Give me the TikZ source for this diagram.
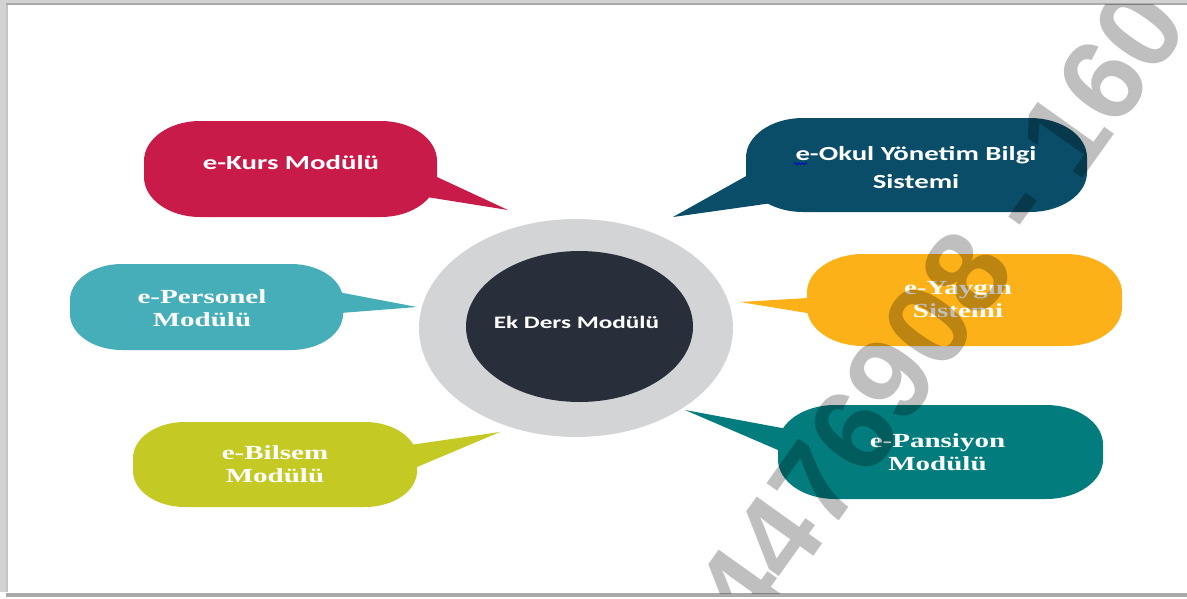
\documentclass[tikz,border=0pt]{standalone}
\usepackage{fontspec}
\usetikzlibrary{decorations.pathmorphing}
\newfontfamily\calb[FakeStretch=1.44]{Carlito}
\newfontfamily\timb[FakeStretch=1.45]{Liberation Serif}
\newfontfamily\wmfont{Liberation Sans}
\definecolor{ckurs}{HTML}{C91B4A}
\definecolor{cokul}{HTML}{0A4D68}
\definecolor{cpers}{HTML}{45AEB8}
\definecolor{cyayg}{HTML}{FBB117}
\definecolor{cbils}{HTML}{C4C923}
\definecolor{cpans}{HTML}{027C7D}
\definecolor{cring}{HTML}{D3D4D6}
\definecolor{ccore}{HTML}{282F3A}
\definecolor{frameA}{HTML}{D2D2D2}
\definecolor{frameB}{HTML}{AAAAAA}
% x1 y1 x2 y2 rx ry colour
\newcommand\bubblebody[7]{%
  \pgfmathsetmacro\xa{#1}\pgfmathsetmacro\ya{#2}%
  \pgfmathsetmacro\xb{#3}\pgfmathsetmacro\yb{#4}%
  \pgfmathsetmacro\rx{#5}\pgfmathsetmacro\ry{#6}%
  \pgfmathsetmacro\kx{0.4477*\rx}\pgfmathsetmacro\ky{0.4477*\ry}%
  \fill[#7] (\xa+\rx,\ya) -- (\xb-\rx,\ya)
     .. controls (\xb-\kx,\ya) and (\xb,\ya+\ky) .. (\xb,\ya+\ry)
     -- (\xb,\yb-\ry)
     .. controls (\xb,\yb-\ky) and (\xb-\kx,\yb) .. (\xb-\rx,\yb)
     -- (\xa+\rx,\yb)
     .. controls (\xa+\kx,\yb) and (\xa,\yb-\ky) .. (\xa,\yb-\ry)
     -- (\xa,\ya+\ry)
     .. controls (\xa,\ya+\ky) and (\xa+\kx,\ya) .. (\xa+\rx,\ya) -- cycle;}
\tikzset{
  sanslabel/.style={text=white, inner sep=0pt, align=center,
    font=\calb\bfseries\fontsize{20}{28}\selectfont},
  seriflabel/.style={text=white, inner sep=0pt, align=center,
    font=\timb\bfseries\fontsize{20}{23}\selectfont},
  corelabel/.style={text=white, inner sep=0pt,
    font=\calb\bfseries\fontsize{17.5}{20}\selectfont},
  watermark/.style={text=black, text opacity=0.25, inner sep=0pt,
    font=\wmfont\bfseries\fontsize{117}{117}\selectfont},
}
\begin{document}
\begin{tikzpicture}[x=1pt,y=-1pt]
\useasboundingbox (0,0) rectangle (1187,598);
\fill[white] (0,0) rectangle (1187,598);
% frame shadow
\fill[frameA] (0,0) rectangle (8,592);
\fill[frameB!70!white] (5.5,4) rectangle (8,592);
\fill[frameA] (0,0) rectangle (1187,4.5);
\fill[frameB] (6,3) rectangle (1187,4.5);
\fill[frameB] (6,593) rectangle (1187,597);

% centre
\fill[cring] (576,328) ellipse [x radius=157pt, y radius=109pt];
\fill[ccore] (579.5,326.5) ellipse [x radius=113.5pt, y radius=75.5pt];
\node[corelabel] (core) at (576.5,322) {Ek Ders Modülü};

% tail points
\coordinate (kursT) at (508,210);   \coordinate (kursA) at (400,159.8); \coordinate (kursB) at (400,192.7);
\coordinate (persT) at (417,307);   \coordinate (persA) at (320,288.6); \coordinate (persB) at (320,314.6);
\coordinate (bilsT) at (500,432);   \coordinate (bilsA) at (390,447.9); \coordinate (bilsB) at (390,478.4);
\coordinate (okulT) at (673,217);   \coordinate (okulA) at (790,151.5); \coordinate (okulB) at (790,200.5);
\coordinate (yaygT) at (740,302);   \coordinate (yaygA) at (840,296.1); \coordinate (yaygB) at (840,318.4);
\coordinate (pansT) at (685,410);   \coordinate (pansA) at (820,435.1); \coordinate (pansB) at (820,468.1);

% e-Kurs
\bubblebody{144}{121}{437}{217}{56}{40}{ckurs}
\fill[ckurs] (kursA) -- (kursT) -- (kursB) -- cycle;
\node[sanslabel] (kurs) at (291,163) {e-Kurs Modülü};
% e-Personel
\bubblebody{70}{264}{343}{350}{52}{36}{cpers}
\fill[cpers] (persA) -- (persT) -- (persB) -- cycle;
\node[seriflabel] (personel) at (202,308) {e-Personel\\Modülü};
% e-Bilsem
\bubblebody{133}{422}{417}{507}{52}{36}{cbils}
\fill[cbils] (bilsA) -- (bilsT) -- (bilsB) -- cycle;
\node[seriflabel] (bilsem) at (275,464.5) {e-Bilsem\\Modülü};
% e-Okul
\bubblebody{746}{118}{1087}{212}{57}{39.5}{cokul}
\fill[cokul] (okulA) -- (okulT) -- (okulB) -- cycle;
\node[sanslabel] (okul) at (916,168) {e-Okul Yönetim Bilgi\\Sistemi};
\draw[blue!80!black, line width=0.8pt, decorate,
  decoration={snake, segment length=3.5pt, amplitude=0.9pt}]
  ([xshift=-122pt, yshift=-17pt]okul.north) -- ([xshift=-109pt, yshift=-17pt]okul.north);
% e-Yaygın
\bubblebody{807}{254}{1122}{346}{56}{38.6}{cyayg}
\fill[cyayg] (yaygA) -- (yaygT) -- (yaygB) -- cycle;
\node[seriflabel] (yaygin) at (958,299.5) {e-Yaygın\\Sistemi};
% e-Pansiyon
\bubblebody{778}{405}{1103}{499}{57}{39.5}{cpans}
\fill[cpans] (pansA) -- (pansT) -- (pansB) -- cycle;
\node[seriflabel] (pansiyon) at (937.5,452) {e-Pansiyon\\Modülü};

% watermark
\begin{scope}
\clip (8,4.5) rectangle (1187,593);
\node[watermark, rotate=54.5] (wm) at (940,309.5) {4476908 - 160};
\end{scope}
\end{tikzpicture}
\end{document}
